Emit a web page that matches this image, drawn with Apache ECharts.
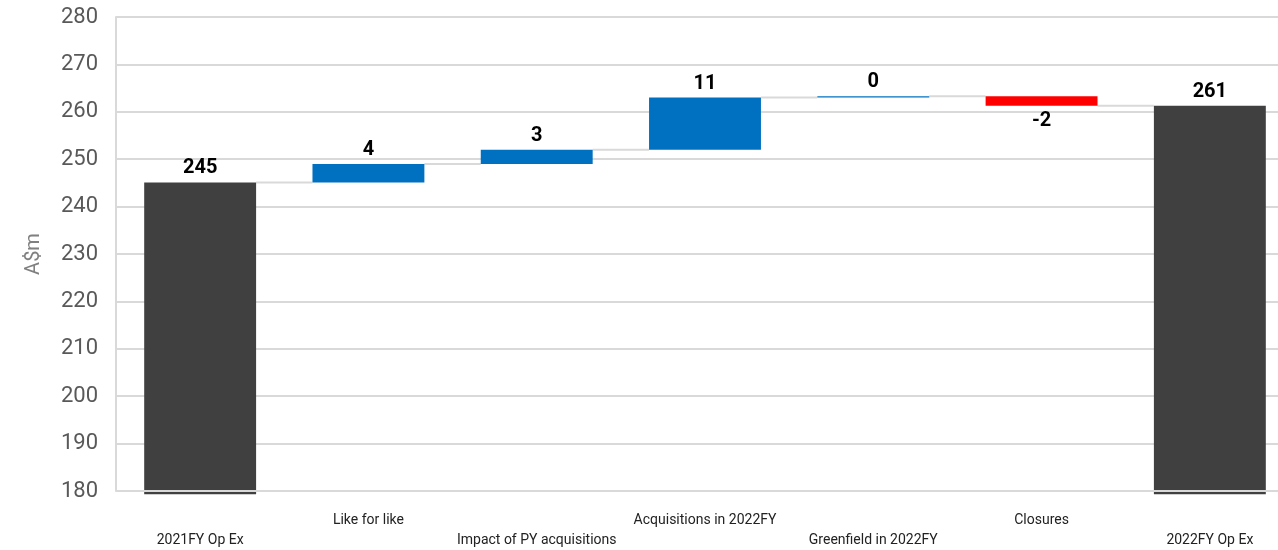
<!DOCTYPE html>
<html>
<head>
<meta charset="utf-8">
<script src="https://cdn.jsdelivr.net/npm/echarts@6/dist/echarts.min.js"></script>
<style>
  html, body { margin: 0; padding: 0; background: #fff; overflow: hidden; }
  #chart { width: 1294px; height: 550px; }
</style>
</head>
<body>
<div id="chart"></div>
<script>
// waterfall data, A$m
var categories = ['2021FY Op Ex', 'Like for like', 'Impact of PY acquisitions', 'Acquisitions in 2022FY', 'Greenfield in 2022FY', 'Closures', '2022FY Op Ex']
var deltas = [245.1, 3.9, 3.0, 11.0, 0.3, -2.0, 261.3]
var isTotal = [true, false, false, false, false, false, true]
var yTicks = { min: 180, max: 280, step: 10 }

var font = 'Roboto'
var barPct = 0.665
var floor = 179.3  // totals start just under the axis floor

// build stacked pieces
var base = [], up = [], down = [], total = [], levels = []
var run = 0
for (var i = 0; i < deltas.length; i++) {
  var d = deltas[i]
  if (isTotal[i]) {
    run = d
    base.push(floor); total.push(d - floor); up.push('-'); down.push('-')
  } else if (d >= 0) {
    base.push(run); up.push(d); down.push('-'); total.push('-')
    run += d
  } else {
    run += d
    base.push(run); down.push(-d); up.push('-'); total.push('-')
  }
  levels.push(run)
}
var connectors = []
for (var j = 0; j < levels.length - 1; j++) connectors.push([j, levels[j]])

function lbl(pos, dist) {
  return {
    show: true, position: pos, distance: dist,
    fontFamily: font, fontWeight: 'bold', fontSize: 20, color: '#000',
    formatter: function (p) { return String(Math.round(deltas[p.dataIndex])) }
  }
}

var chart = echarts.init(document.getElementById('chart'))
chart.setOption({
  animation: false,
  grid: { left: 116, right: 0, top: 17, bottom: 57 },
  xAxis: {
    type: 'category',
    data: categories,
    axisLine: { show: false },
    axisTick: { show: false },
    axisLabel: {
      interval: 0, margin: 20, lineHeight: 19.5,
      fontFamily: font, fontSize: 14, color: '#222',
      formatter: function (v, i) { return i % 2 === 1 ? v : '\n' + v }
    }
  },
  yAxis: {
    type: 'value',
    min: yTicks.min, max: yTicks.max, interval: yTicks.step,
    name: 'A$m', nameLocation: 'middle', nameGap: 72, nameRotate: 90,
    nameTextStyle: { fontFamily: font, fontSize: 20, color: '#808080' },
    axisLine: { show: true, lineStyle: { color: '#d9d9d9', width: 2 } },
    axisTick: { show: false },
    axisLabel: { fontFamily: font, fontSize: 22, color: '#595959', margin: 18, padding: [6, 0, 0, 0] },
    splitLine: { lineStyle: { color: '#d9d9d9', width: 2 } }
  },
  series: [
    { name: 'base', type: 'bar', stack: 'wf', barWidth: (barPct * 100) + '%', data: base,
      itemStyle: { color: 'transparent' }, silent: true },
    { name: 'Increase', type: 'bar', stack: 'wf', data: up, clip: false,
      itemStyle: { color: '#0070c0' }, label: lbl('top', 4) },
    { name: 'Decrease', type: 'bar', stack: 'wf', data: down, clip: false,
      itemStyle: { color: '#ff0000' }, label: lbl('bottom', 5) },
    { name: 'Total', type: 'bar', stack: 'wf', data: total, clip: false,
      itemStyle: { color: '#404040' }, label: lbl('top', 4),
      markLine: {
        silent: true, symbol: 'none', label: { show: false },
        lineStyle: { color: '#d9d9d9', width: 2, type: 'solid' },
        data: [{ yAxis: yTicks.min }]
      }
    },
    { name: 'connector', type: 'custom', data: connectors, silent: true, z: 1,
      renderItem: function (params, api) {
        var i = api.value(0), v = api.value(1)
        var half = api.size([1, 0])[0] * barPct / 2
        var a = api.coord([i, v]), b = api.coord([i + 1, v])
        return {
          type: 'line',
          shape: { x1: a[0] + half, y1: a[1], x2: b[0] - half, y2: b[1] },
          style: { stroke: '#d9d9d9', lineWidth: 2 }
        }
      }
    }
  ]
})
</script>
</body>
</html>
